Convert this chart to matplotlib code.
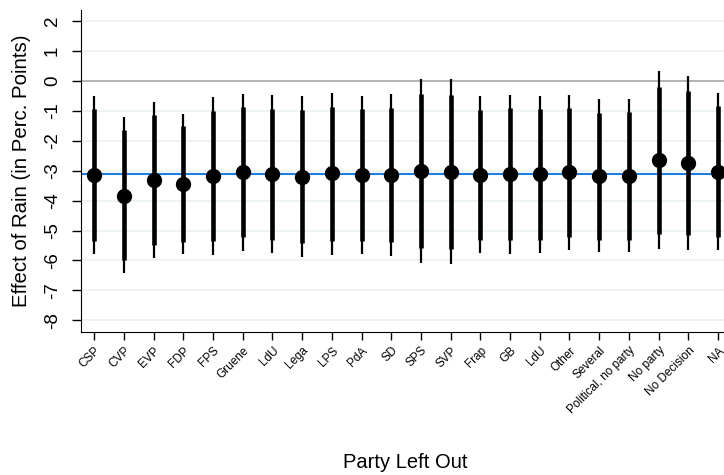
import numpy as np
import matplotlib.pyplot as plt

plt.rcParams['font.family'] = ['Liberation Sans', 'DejaVu Sans']

# party left out of the sample
parties = ['CSP', 'CVP', 'EVP', 'FDP', 'FPS', 'Gruene', 'LdU', 'Lega', 'LPS', 'PdA',
           'SD', 'SPS', 'SVP', 'Frap', 'GB', 'LdU', 'Other', 'Several',
           'Political, no party', 'No party', 'No Decision', 'NA']

# point estimates
estimate = [-3.14, -3.84, -3.31, -3.44, -3.17, -3.03, -3.11, -3.20, -3.09, -3.14,
            -3.14, -3.00, -3.03, -3.14, -3.11, -3.11, -3.04, -3.18,
            -3.17, -2.64, -2.75, -3.04]

# 90% interval (thick)
ci90_low = [-5.34, -5.99, -5.48, -5.37, -5.34, -5.23, -5.32, -5.41, -5.34, -5.34,
            -5.37, -5.57, -5.60, -5.32, -5.32, -5.32, -5.23, -5.30,
            -5.30, -5.12, -5.16, -5.21]
ci90_high = [-0.94, -1.64, -1.14, -1.49, -0.99, -0.88, -0.93, -0.97, -0.86, -0.95,
             -0.90, -0.45, -0.47, -0.97, -0.91, -0.94, -0.91, -1.06,
             -1.03, -0.19, -0.34, -0.84]

# 95% interval (thin)
ci95_low = [-5.79, -6.43, -5.91, -5.79, -5.82, -5.67, -5.76, -5.87, -5.82, -5.79,
            -5.84, -6.10, -6.13, -5.76, -5.79, -5.76, -5.65, -5.73,
            -5.73, -5.61, -5.65, -5.65]
ci95_high = [-0.50, -1.20, -0.69, -1.09, -0.54, -0.45, -0.48, -0.52, -0.41, -0.50,
             -0.45, 0.08, 0.07, -0.51, -0.46, -0.50, -0.48, -0.61,
             -0.59, 0.33, 0.16, -0.39]

full_sample = -3.12

fig = plt.figure(figsize=(7.24, 4.75), dpi=100)
ax = fig.add_axes([0.1119, 0.301, 0.8881, 0.678])

x = np.arange(1, len(parties) + 1)

# grid
for yv in range(-8, 3):
    if yv == 0:
        continue
    ax.axhline(yv, color='#eaf0f3', lw=1.2, zorder=0)
ax.axhline(0, color='#a8a8a8', lw=1.2, zorder=1)
ax.axhline(full_sample, color='#1a7fe0', lw=1.5, zorder=2)

ax.vlines(x, ci95_low, ci95_high, color='black', lw=1.6, zorder=3)
ax.vlines(x, ci90_low, ci90_high, color='black', lw=3.3, zorder=4)
ax.plot(x, estimate, 'o', color='black', ms=10, zorder=5)

ax.set_xlim(0.56, 22.2)
ax.set_ylim(-8.39, 2.37)
ax.set_xticks(x)
ax.set_xticklabels(parties, rotation=45, ha='right', rotation_mode='anchor', fontsize=8.5)
ax.set_yticks(range(-8, 3))
ax.set_yticklabels([str(v) for v in range(-8, 3)], rotation=90, va='center', fontsize=13.5)

ax.spines['top'].set_visible(False)
ax.spines['right'].set_visible(False)
ax.tick_params(axis='y', direction='out', length=6.5, width=1, color='black', pad=8)
ax.tick_params(axis='x', direction='out', length=6, width=1, color='black', pad=3)

ax.set_ylabel('Effect of Rain (in Perc. Points)', fontsize=14.7, va='center')
ax.yaxis.set_label_coords(-0.0918, 0.5)
fig.text(0.56, 1 - 463 / 475, 'Party Left Out', ha='center', va='center', fontsize=14.5)

fig.savefig('out.png', dpi=100)
